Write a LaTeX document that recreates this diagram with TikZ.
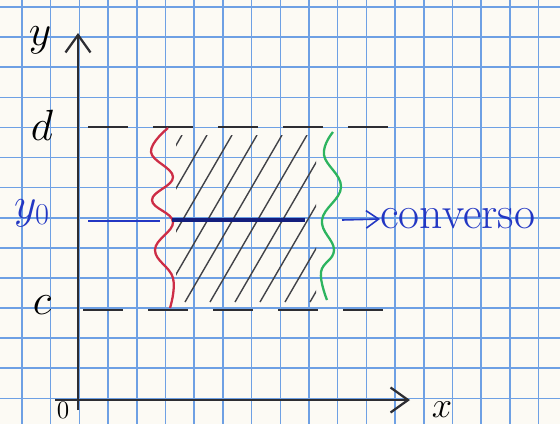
\documentclass[tikz,border=0pt]{standalone}
\usepackage{tikz}
\usetikzlibrary{arrows.meta,positioning}
\definecolor{gridblue}{RGB}{110,160,228}
\definecolor{paper}{RGB}{252,250,244}
\definecolor{penred}{RGB}{205,45,70}
\definecolor{pengreen}{RGB}{45,180,95}
\definecolor{penblue}{RGB}{35,55,195}
\definecolor{inkblue}{RGB}{20,30,125}
\definecolor{pencil}{RGB}{45,45,50}

\begin{document}
\begin{tikzpicture}[
      x=0.02cm, y=-0.02cm,
      gridline/.style={draw=gridblue, line width=0.9pt},
      axis/.style={draw=pencil, line width=1.3pt, -{Straight Barb[length=0.35cm,width=0.5cm]}},
      bound/.style={draw=pencil, line width=1.1pt, dash pattern=on 0.8cm off 0.5cm},
      hatch/.style={draw=pencil!90, line width=0.8pt},
      wave/.style={line width=1.3pt, smooth, tension=0.7},
      lbl/.style={inner sep=0pt, font=\fontsize{26}{28}\selectfont}
    ]
      \fill[paper] (0,0) rectangle (560,424);
      \useasboundingbox (0,0) rectangle (560,424);
      \foreach \gx in {0,...,18} \draw[gridline] ({22+28.7*\gx},0) -- ({22+28.7*\gx},424);
      \foreach \gy in {0,...,13} \draw[gridline] (0,{7+30.1*\gy}) -- (560,{7+30.1*\gy});

      \coordinate (ytop) at (78,33);
      \coordinate (ybot) at (78,410);
      \coordinate (xleft) at (55,400);
      \coordinate (xtip) at (410,400);
      \coordinate (d0) at (88,127);
      \coordinate (d1) at (392,127);
      \coordinate (c0) at (83,310);
      \coordinate (c1) at (392,310);
      \coordinate (b0) at (88,221);
      \coordinate (b1) at (160,221);
      \coordinate (b2) at (172,220);
      \coordinate (b3) at (305,220);
      \coordinate (ar0) at (342,220);

      \node[lbl] (ylab) at (40,40) {$y$};
      \node[lbl, font=\fontsize{22}{24}\selectfont] (xlab) at (442,410) {$x$};
      \node[lbl, font=\fontsize{14}{16}\selectfont] (olab) at (63,410) {$0$};
      \node[lbl] (dlab) at (42,125) {$d$};
      \node[lbl] (clab) at (42,305) {$c$};
      \node[lbl, text=penblue] (y0lab) at (32,213) {$y_0$};
      \node[lbl, text=penblue, anchor=west] (conv) at (380,219) {converso};

      \begin{scope}
        \clip (176,135) rectangle (316,302);
        \foreach \hx in {85,110,...,335} \draw[hatch] (\hx,302) -- ++(97,-167);
      \end{scope}

      \draw[axis] (ybot) -- (ytop);
      \draw[axis] (xleft) -- (xtip);
      \draw[bound] (d0) -- (d1);
      \draw[bound] (c0) -- (c1);

      \draw[wave, draw=penred] plot coordinates {(168,128) (151,152) (173,177) (152,200) (173,222) (155,250) (173,278) (170,308)};
      \draw[wave, draw=pengreen] plot coordinates {(333,132) (324,155) (341,187) (322,220) (334,250) (321,272) (327,300)};

      \draw[draw=penblue, line width=0.8pt] (b0) -- (b1);
      \draw[draw=inkblue, line width=2.2pt] (b2) -- (b3);
      \draw[draw=penblue, line width=0.9pt, -{Straight Barb[length=0.25cm,width=0.35cm]}] (ar0) -- (conv.west);
    \end{tikzpicture}
\end{document}
